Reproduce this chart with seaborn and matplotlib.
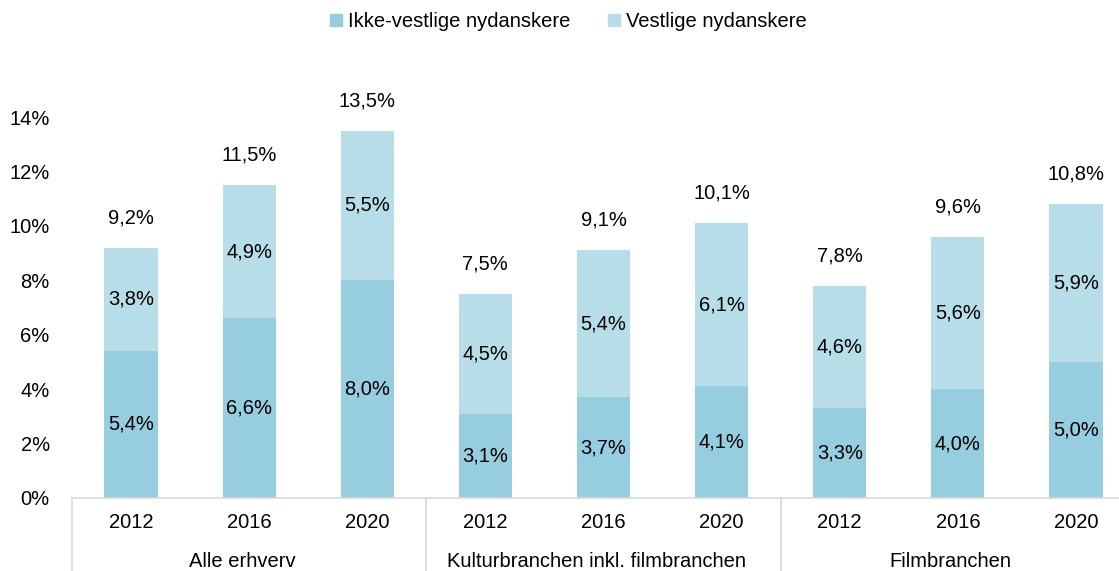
import pandas as pd
import seaborn as sns
import matplotlib.pyplot as plt
from matplotlib.patches import Patch

# Data
groups = ['Alle erhverv', 'Kulturbranchen inkl. filmbranchen', 'Filmbranchen']
years = ['2012', '2016', '2020']
ikke_vestlige = [5.4, 6.6, 8.0, 3.1, 3.7, 4.1, 3.3, 4.0, 5.0]
vestlige = [3.8, 4.9, 5.5, 4.5, 5.4, 6.1, 4.6, 5.6, 5.9]
totals = [9.2, 11.5, 13.5, 7.5, 9.1, 10.1, 7.8, 9.6, 10.8]

dark = '#96CDDF'
light = '#B7DDE8'
line_col = '#D9D9D9'
fs = 14.5

sns.set_style('white')
plt.rcParams['font.family'] = ['Liberation Sans', 'DejaVu Sans']
plt.rcParams['text.color'] = 'black'
plt.rcParams['xtick.color'] = 'black'
plt.rcParams['ytick.color'] = 'black'

keys = [f'{g} {y}' for g in groups for y in years]
df = pd.DataFrame({'key': keys, 'ikke': ikke_vestlige, 'vest': vestlige, 'total': totals})

fig = plt.figure(figsize=(11.19, 5.71), dpi=100)
# the plot area runs a little past the right edge of the picture, as in the original
ax = fig.add_axes([0.0643, 0.128, 0.95, 0.667])

# light bar up to total, dark bar on top of it from zero
sns.barplot(data=df, x='key', y='total', order=keys, color=light, width=0.45,
            saturation=1, ax=ax, errorbar=None, linewidth=0)
sns.barplot(data=df, x='key', y='ikke', order=keys, color=dark, width=0.45,
            saturation=1, ax=ax, errorbar=None, linewidth=0)

def fmt(v):
    return f'{v:.1f}%'.replace('.', ',')

for i in range(len(keys)):
    ax.text(i, ikke_vestlige[i] / 2, fmt(ikke_vestlige[i]), ha='center', va='center', fontsize=fs)
    ax.text(i, (ikke_vestlige[i] + totals[i]) / 2, fmt(vestlige[i]), ha='center', va='center', fontsize=fs)
    ax.annotate(fmt(totals[i]), (i, totals[i]), xytext=(0, 21.5), textcoords='offset points',
                ha='center', va='center', fontsize=fs)

ax.set_xlim(-0.5, len(keys) - 0.5)
ax.set_ylim(0, 14)
ax.set_yticks(range(0, 15, 2))
ax.set_yticklabels([f'{t}%' for t in range(0, 15, 2)])
ax.set_xticks(range(len(keys)))
ax.set_xticklabels(years * 3)
ax.tick_params(axis='both', length=0, labelsize=fs)
ax.tick_params(axis='y', pad=16)
ax.tick_params(axis='x', pad=11)
ax.set_xlabel('')
ax.set_ylabel('')

for s in ['left', 'right', 'top']:
    ax.spines[s].set_visible(False)
ax.spines['bottom'].set_color(line_col)
ax.spines['bottom'].set_linewidth(1.2)

# category table below the axis
trans = ax.get_xaxis_transform()
for xpos in [-0.5, 2.5, 5.5, 8.5]:
    ax.plot([xpos, xpos], [0, -0.2], color=line_col, lw=1.2, transform=trans, clip_on=False)
for j, g in enumerate(groups):
    ax.text(j * 3 + 1 - 0.06, -0.168, g, ha='center', va='center', fontsize=fs, transform=trans)

handles = [Patch(color=dark, label='Ikke-vestlige nydanskere'),
           Patch(color=light, label='Vestlige nydanskere')]
fig.legend(handles=handles, loc='center', bbox_to_anchor=(0.508, 0.962), ncol=2, frameon=False,
           fontsize=fs, handlelength=0.6, handleheight=0.6, handletextpad=0.3, columnspacing=1.85)

fig.savefig('out.png', dpi=100)
